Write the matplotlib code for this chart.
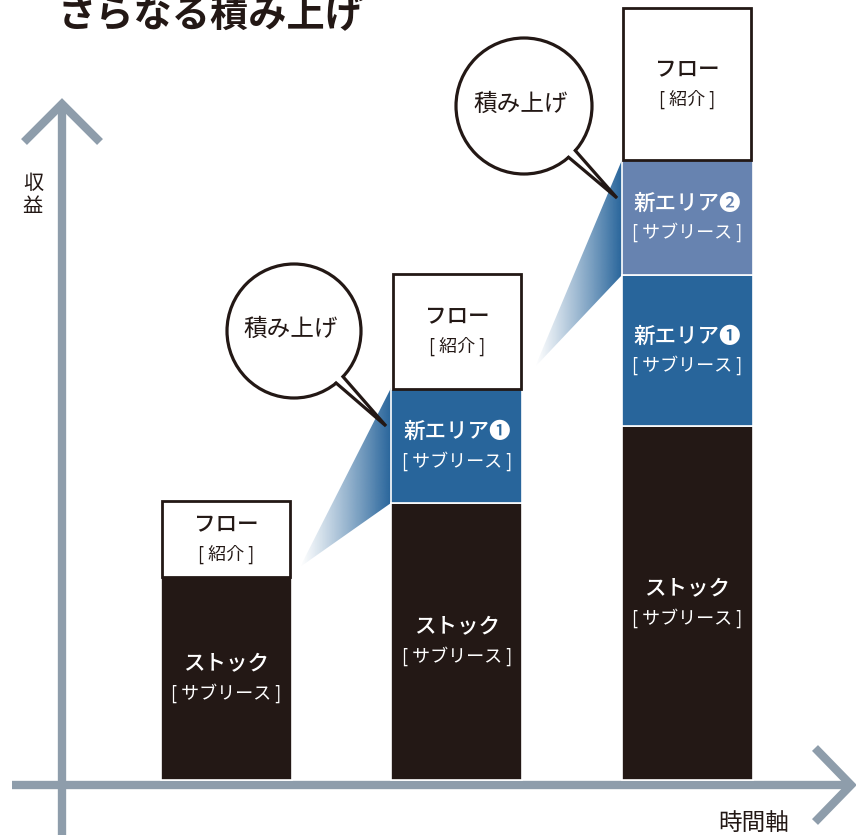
import numpy as np
import matplotlib.pyplot as plt
from matplotlib.patches import Circle, Polygon

plt.rcParams['font.family'] = ['Noto Sans CJK JP', 'DejaVu Sans']

# canvas units: 1 unit = 1 pixel, y = 0 on the time axis
W, H = 856, 835
BASE = 780

# stacked bars (heights in canvas units)
bar_x = [226.5, 457, 687.5]
stock = [203, 277, 354]
new1 = [0, 114, 151]
new2 = [0, 0, 115]
flow = [76, 115, 152]

main_flow = "フロー"
sub_flow = "[ 紹介 ]"
main_stock = "ストック"
sub_sub = "[ サブリース ]"
main_new1 = "新エリア❶"
main_new2 = "新エリア❷"

title = "さらなる積み上げ"
bubble_text = "積み上げ"
ylabel = "収\n益"
xlabel = "時間軸"

ink = '#231815'
blue1 = '#28659b'
blue2 = '#6783b0'
axis_grey = '#8e9dab'


def py(v):
    # pixel row (from top) -> canvas y
    return BASE - v


def gradient_wedge(ax, pts, color):
    poly = Polygon(pts, closed=True, fc='none', ec='none')
    ax.add_patch(poly)
    xs = [p[0] for p in pts]
    ys = [p[1] for p in pts]
    rgb = plt.matplotlib.colors.to_rgb(color)
    n = 256
    img = np.zeros((1, n, 4))
    img[0, :, :3] = rgb
    img[0, :, 3] = np.linspace(0, 1, n) ** 1.1
    im = ax.imshow(img, extent=[min(xs), max(xs), min(ys), max(ys)],
                   aspect='auto', interpolation='bilinear', zorder=2)
    im.set_clip_path(poly)


def bubble(ax, cx, cy, r, a1, a2, tip, text):
    ax.add_patch(Circle((cx, cy), r, fc='white', ec=ink, lw=2.3, zorder=5))
    b1 = (cx + r * np.cos(np.deg2rad(-a1)), cy + r * np.sin(np.deg2rad(-a1)))
    b2 = (cx + r * np.cos(np.deg2rad(-a2)), cy + r * np.sin(np.deg2rad(-a2)))
    i1 = (cx + (r - 4) * np.cos(np.deg2rad(-a1)), cy + (r - 4) * np.sin(np.deg2rad(-a1)))
    i2 = (cx + (r - 4) * np.cos(np.deg2rad(-a2)), cy + (r - 4) * np.sin(np.deg2rad(-a2)))
    ax.add_patch(Polygon([i1, tip, i2], closed=True, fc='white', ec='none', zorder=6))
    ax.plot([b1[0], tip[0], b2[0]], [b1[1], tip[1], b2[1]], color=ink, lw=2.3,
            solid_joinstyle='miter', zorder=7)
    ax.text(cx - 3, cy + 2, text, ha='center', va='center', fontsize=17, color=ink, zorder=8)


fig = plt.figure(figsize=(W / 100, H / 100), dpi=100)
ax = fig.add_axes([0, 0, 1, 1])
ax.axis('off')

# axes arrows
ax.plot([12, 849], [-5, -5], color=axis_grey, lw=6, solid_capstyle='butt', zorder=1)
ax.plot([815, 851, 815], [py(748), -5, py(822)], color=axis_grey, lw=6,
        solid_capstyle='butt', solid_joinstyle='miter', zorder=1)
ax.plot([62, 62], [-60, py(106)], color=axis_grey, lw=6, solid_capstyle='butt', zorder=1)
ax.plot([24, 62, 100], [py(142), py(104), py(142)], color=axis_grey, lw=6,
        solid_capstyle='butt', solid_joinstyle='miter', zorder=1)

# gradient wedges
gradient_wedge(ax, [(300, py(567)), (391, py(388)), (391, py(503))], blue1)
gradient_wedge(ax, [(535, py(367)), (622, py(160)), (622, py(275))], blue1)

# bars
bw = 131
bottom = np.zeros(3)
ax.bar(bar_x, stock, bw, bottom=bottom, color=ink, ec='white', lw=1.2, zorder=3)
bottom += stock
ax.bar(bar_x, new1, bw, bottom=bottom, color=blue1, ec='white', lw=1.2, zorder=3)
bottom += new1
ax.bar(bar_x, new2, bw, bottom=bottom, color=blue2, ec='white', lw=1.2, zorder=3)
bottom += new2
ax.bar(bar_x, flow, bw - 3, bottom=bottom, color='white', ec=ink, lw=2, zorder=4)


def label(x, y0, h, main, sub, color):
    c = y0 + h / 2
    ax.text(x, c + 14, main, ha='center', va='center', fontsize=15.5,
            fontweight='medium', color=color, zorder=9)
    ax.text(x, c - 15, sub, ha='center', va='center', fontsize=13,
            color=color, zorder=9)


for i, x in enumerate(bar_x):
    b = 0
    label(x, b, stock[i], main_stock, sub_sub, 'white')
    b += stock[i]
    if new1[i]:
        label(x, b, new1[i], main_new1, sub_sub, 'white')
        b += new1[i]
    if new2[i]:
        label(x, b, new2[i], main_new2, sub_sub, 'white')
        b += new2[i]
    label(x, b, flow[i], main_flow, sub_flow, ink)

# speech bubbles
bubble(ax, 294, py(331), 67, 43, 51, (386, py(426)), bubble_text)
bubble(ax, 524, py(106), 68, 41, 49, (617, py(198)), bubble_text)

# texts
ax.text(58, py(16), title, ha='left', va='center', fontsize=27.5, fontweight='bold', color=ink)
ax.text(33, py(195), ylabel, ha='center', va='center', fontsize=14.5, color=ink,
        linespacing=1.1)
ax.text(754, py(823), xlabel, ha='center', va='center', fontsize=17, color=ink)

ax.set_xlim(0, W)
ax.set_ylim(BASE - H, BASE)

fig.savefig('out.png', dpi=100)
